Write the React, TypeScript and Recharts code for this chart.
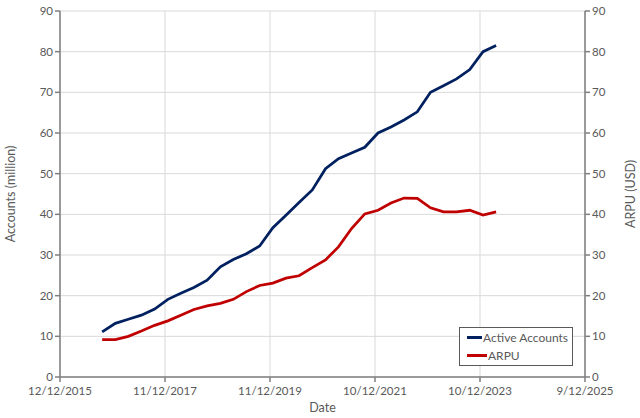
import React from 'react';
import { LineChart, Line, XAxis, YAxis, CartesianGrid, Legend } from 'recharts';

// quarter-end reporting dates
const QUARTERS = [
  '2016-09-30', '2016-12-31', '2017-03-31', '2017-06-30', '2017-09-30', '2017-12-31',
  '2018-03-31', '2018-06-30', '2018-09-30', '2018-12-31', '2019-03-31', '2019-06-30',
  '2019-09-30', '2019-12-31', '2020-03-31', '2020-06-30', '2020-09-30', '2020-12-31',
  '2021-03-31', '2021-06-30', '2021-09-30', '2021-12-31', '2022-03-31', '2022-06-30',
  '2022-09-30', '2022-12-31', '2023-03-31', '2023-06-30', '2023-09-30', '2023-12-31',
  '2024-03-31',
];

const ACTIVE_ACCOUNTS = [
  11.1, 13.2, 14.2, 15.2, 16.7, 19.1, 20.6, 22.0, 23.8, 27.1, 28.9, 30.3, 32.2, 36.7, 39.8, 42.9,
  46.0, 51.2, 53.7, 55.1, 56.5, 60.0, 61.5, 63.2, 65.2, 70.0, 71.6, 73.3, 75.6, 80.0, 81.5,
];

const ARPU = [
  9.2, 9.2, 10.0, 11.3, 12.7, 13.8, 15.2, 16.6, 17.5, 18.1, 19.1, 21.0, 22.5, 23.1, 24.3, 24.9,
  26.9, 28.8, 32.0, 36.5, 40.1, 41.0, 42.8, 44.0, 43.9, 41.6, 40.6, 40.6, 41.0, 39.8, 40.6,
];

const SERIES_ORDER = ['Active Accounts', 'ARPU'];

// d/m/yyyy labels, as on the source axis
const DATE_TICKS = ['12/12/2015', '11/12/2017', '11/12/2019', '10/12/2021', '10/12/2023', '9/12/2025'];
const VALUE_TICKS = [0, 10, 20, 30, 40, 50, 60, 70, 80, 90];

const DAY = 86400000;
const isoToDays = (s: string) => Date.parse(s) / DAY;
const dmyToDays = (s: string) => {
  const [d, m, y] = s.split('/').map(Number);
  return Date.UTC(y, m - 1, d) / DAY;
};

const tickDays = DATE_TICKS.map(dmyToDays);

const data = QUARTERS.map((q, i) => ({
  t: isoToDays(q),
  accounts: ACTIVE_ACCOUNTS[i],
  arpu: ARPU[i],
}));

const TEXT = '#595959';
const AXIS = '#7f7f7f';

const formatDate = (v: number) => {
  const i = tickDays.findIndex((d) => Math.abs(d - v) < 0.5);
  return i >= 0 ? DATE_TICKS[i] : '';
};

const leftTitle = ({ viewBox }: any) => {
  const x = viewBox.x + 10;
  const y = viewBox.y + viewBox.height / 2;
  return (
    <text x={x} y={y} transform={`rotate(-90 ${x} ${y})`} textAnchor="middle" dominantBaseline="central" fill={TEXT} fontSize={12.5}>
      Accounts (million)
    </text>
  );
};

const rightTitle = ({ viewBox }: any) => {
  const x = viewBox.x + viewBox.width - 10;
  const y = viewBox.y + viewBox.height / 2;
  return (
    <text x={x} y={y} transform={`rotate(-90 ${x} ${y})`} textAnchor="middle" dominantBaseline="central" fill={TEXT} fontSize={12.5}>
      ARPU (USD)
    </text>
  );
};

const bottomTitle = ({ viewBox }: any) => (
  <text x={viewBox.x + viewBox.width / 2} y={viewBox.y + 35} textAnchor="middle" fill={TEXT} fontSize={12.5}>
    Date
  </text>
);

const LegendBox = ({ payload }: any) => {
  const items = [...(payload || [])].sort(
    (a: any, b: any) => SERIES_ORDER.indexOf(a.value) - SERIES_ORDER.indexOf(b.value)
  );
  return (
    <div
      style={{
        boxSizing: 'border-box',
        border: `1.5px solid ${TEXT}`,
        background: '#fff',
        padding: '0 4px 0 7px',
        width: 114,
        height: 39,
        display: 'flex',
        flexDirection: 'column',
        justifyContent: 'center',
      }}
    >
      {items.map((p: any) => (
        <div
          key={p.value}
          style={{ display: 'flex', alignItems: 'center', height: 18, fontSize: 12, color: TEXT, whiteSpace: 'nowrap' }}
        >
          <span style={{ display: 'inline-block', width: 20, height: 3, background: p.color, marginRight: 1 }} />
          {p.value}
        </div>
      ))}
    </div>
  );
};

export default function App() {
  return (
    <div style={{ position: 'absolute', left: 0, top: 0, fontFamily: 'Lato, sans-serif', background: '#fff' }}>
      <LineChart width={640} height={418} data={data} margin={{ top: 11, right: 0, bottom: 0, left: 0 }}>
        <CartesianGrid stroke="#d9d9d9" yAxisId="left" />
        <XAxis
          dataKey="t"
          type="number"
          domain={[tickDays[0], tickDays[tickDays.length - 1]]}
          ticks={tickDays}
          tickFormatter={formatDate}
          height={41}
          tickSize={5}
          tick={{ fill: TEXT, fontSize: 11.5, dy: 3 }}
          axisLine={{ stroke: AXIS, strokeWidth: 1.5 }}
          tickLine={{ stroke: AXIS, strokeWidth: 1.5 }}
          label={bottomTitle}
        />
        <YAxis
          yAxisId="left"
          domain={[0, 90]}
          ticks={VALUE_TICKS}
          width={60}
          tickSize={5}
          tick={{ fill: TEXT, fontSize: 11.5 }}
          axisLine={{ stroke: AXIS, strokeWidth: 1.5 }}
          tickLine={{ stroke: AXIS, strokeWidth: 1.5 }}
          label={leftTitle}
        />
        <YAxis
          yAxisId="right"
          orientation="right"
          domain={[0, 90]}
          ticks={VALUE_TICKS}
          width={55}
          tickSize={5}
          tick={{ fill: TEXT, fontSize: 11.5 }}
          axisLine={{ stroke: AXIS, strokeWidth: 1.5 }}
          tickLine={{ stroke: AXIS, strokeWidth: 1.5 }}
          label={rightTitle}
        />
        <Line
          yAxisId="left"
          type="linear"
          dataKey="accounts"
          name="Active Accounts"
          stroke="#002060"
          strokeWidth={2.75}
          dot={false}
          isAnimationActive={false}
        />
        <Line
          yAxisId="right"
          type="linear"
          dataKey="arpu"
          name="ARPU"
          stroke="#c00000"
          strokeWidth={2.75}
          dot={false}
          isAnimationActive={false}
        />
        <Legend
          layout="horizontal"
          verticalAlign="middle"
          align="center"
          content={LegendBox}
          wrapperStyle={{ left: 459, top: 327, width: 114 }}
        />
      </LineChart>
    </div>
  );
}
